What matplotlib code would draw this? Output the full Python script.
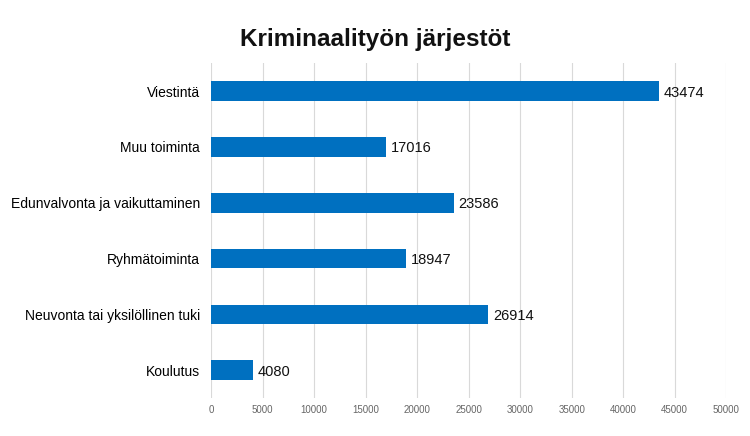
import numpy as np
import matplotlib.pyplot as plt

categories = ["Viestintä", "Muu toiminta", "Edunvalvonta ja vaikuttaminen",
              "Ryhmätoiminta", "Neuvonta tai yksilöllinen tuki", "Koulutus"]
values = [43474, 17016, 23586, 18947, 26914, 4080]
ticks = np.arange(0, 50001, 5000)

plt.rcParams['font.family'] = ['Liberation Sans', 'DejaVu Sans']

fig = plt.figure(figsize=(7.5, 4.36), dpi=100)
ax = fig.add_axes([0.2813, 0.087, 0.687, 0.768])

y = np.arange(len(categories))
ax.barh(y, values, height=0.35, color="#0070c0", zorder=3)
for yi, v in zip(y, values):
    ax.text(v + 450, yi, str(v), va="center_baseline", ha="left",
            fontsize=10.5, color="#111111", zorder=4)

ax.set_yticks(y)
ax.set_yticklabels(categories, fontsize=10)
ax.set_ylim(len(categories) - 0.5, -0.5)
ax.set_xlim(0, 50000)
ax.set_xticks(ticks)
ax.set_xticklabels([str(t) for t in ticks], fontsize=7, color="#666666")
ax.tick_params(axis="both", length=0)
ax.tick_params(axis="x", pad=5)
ax.tick_params(axis="y", pad=8)
ax.grid(axis="x", color="#d9d9d9", linewidth=0.8, zorder=0)
for s in ax.spines.values():
    s.set_visible(False)

fig.text(0.5, 0.91, "Kriminaalityön järjestöt", ha="center", va="center",
         fontsize=17.5, fontweight="bold", color="#111111")

fig.savefig("out.png", dpi=100)
